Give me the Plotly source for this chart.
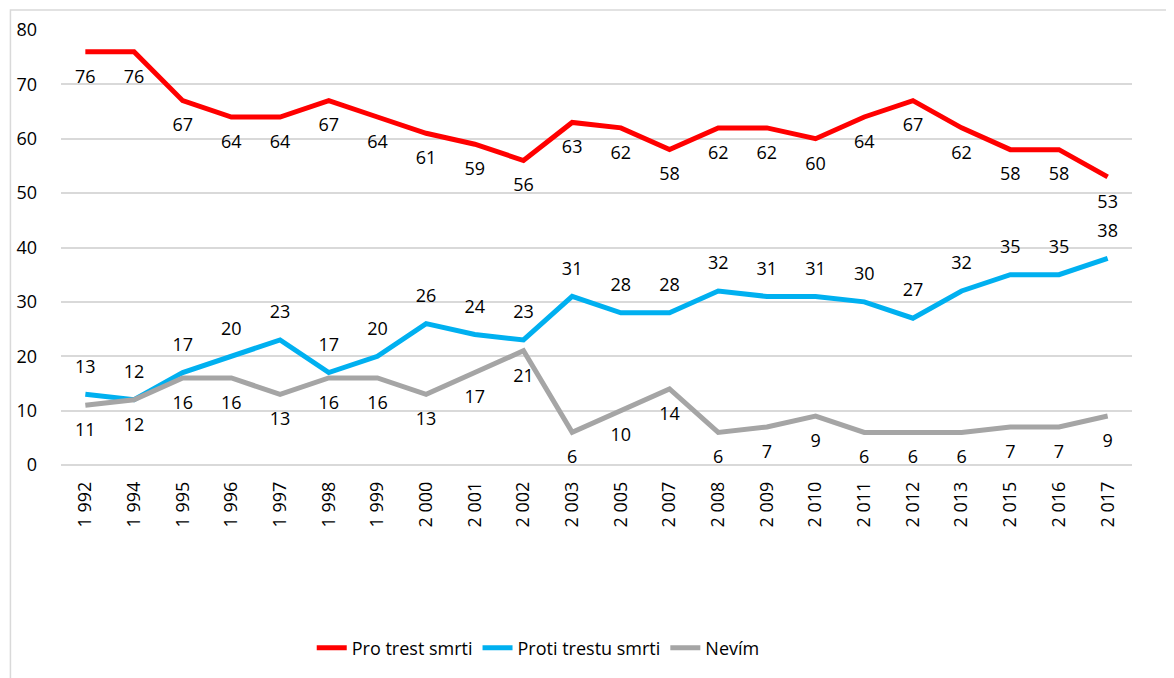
import plotly.graph_objects as go

years = ["1 992", "1 994", "1 995", "1 996", "1 997", "1 998", "1 999", "2 000", "2 001", "2 002",
         "2 003", "2 005", "2 007", "2 008", "2 009", "2 010", "2 011", "2 012", "2 013", "2 015",
         "2 016", "2 017"]
pro = [76, 76, 67, 64, 64, 67, 64, 61, 59, 56, 63, 62, 58, 62, 62, 60, 64, 67, 62, 58, 58, 53]
proti = [13, 12, 17, 20, 23, 17, 20, 26, 24, 23, 31, 28, 28, 32, 31, 31, 30, 27, 32, 35, 35, 38]
nevim = [11, 12, 16, 16, 13, 16, 16, 13, 17, 21, 6, 10, 14, 6, 7, 9, 6, 6, 6, 7, 7, 9]

FONT = "Open Sans"
lab_font = dict(family=FONT, size=18, color="#000000")
ghost = dict(size=26, color="rgba(0,0,0,0)", line=dict(width=0))

fig = go.Figure()
fig.add_trace(go.Scatter(x=years, y=pro, name="Pro trest smrti", mode="lines+markers+text",
                         line=dict(color="#ff0000", width=5), marker=ghost, text=[str(v) for v in pro],
                         textposition="bottom center", textfont=lab_font))
fig.add_trace(go.Scatter(x=years, y=proti, name="Proti trestu smrti", mode="lines+markers+text",
                         line=dict(color="#00b0f0", width=5), marker=ghost, text=[str(v) for v in proti],
                         textposition="top center", textfont=lab_font))
fig.add_trace(go.Scatter(x=years, y=nevim, name="Nevím", mode="lines+markers+text",
                         line=dict(color="#a5a5a5", width=5), marker=ghost, text=[str(v) for v in nevim],
                         textposition="bottom center", textfont=lab_font))

fig.update_layout(
    width=1166, height=670,
    margin=dict(l=52.6, r=42, t=22, b=213, autoexpand=False),
    paper_bgcolor="white", plot_bgcolor="white",
    font=dict(family=FONT, size=18, color="#000000"),
    showlegend=True,
    legend=dict(orientation="h", x=0.4456, xanchor="center", y=-0.4207, yanchor="middle",
                font=dict(family=FONT, size=18, color="#000000"),
                traceorder="normal"),
    xaxis=dict(type="category", range=[-0.5, 21.5], tickangle=-90, showgrid=False, showline=False,
               ticks="", ticklabelstandoff=12, automargin=False,
               tickfont=dict(family=FONT, size=18, color="#000000")),
    yaxis=dict(range=[0, 80], dtick=10, showgrid=True, gridcolor="#d9d9d9", gridwidth=1.5,
               zeroline=True, zerolinecolor="#d9d9d9", zerolinewidth=1.5, showline=False,
               ticks="", ticklabelstandoff=23, automargin=False,
               tickfont=dict(family=FONT, size=18, color="#000000")),
    shapes=[dict(type="rect", xref="paper", yref="paper", x0=-0.0472, x1=1.2, y0=-1.2, y1=1.046,
                 line=dict(color="#d9d9d9", width=1.5), fillcolor="rgba(0,0,0,0)", layer="below")],
)

fig.write_html("out.html")
